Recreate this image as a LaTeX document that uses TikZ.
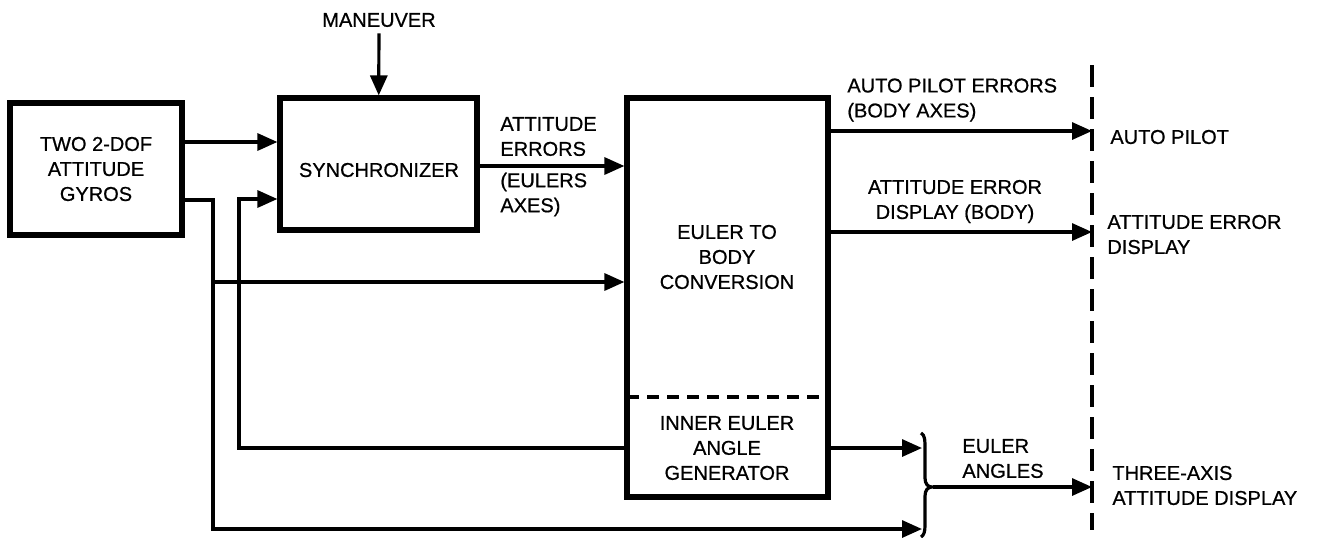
\documentclass[tikz,border=0pt]{standalone}
\usepackage{fontspec}
\setmainfont{Liberation Sans}
\newfontfamily\labfont{Liberation Sans}[FakeBold=0.7]
\usetikzlibrary{arrows.meta,fit}
\begin{document}
\begin{tikzpicture}[x=0.5pt,y=-0.5pt,
  box/.style={draw,line width=2.6pt,inner sep=0pt},
  txt/.style={font=\labfont\fontsize{10pt}{12.5pt}\selectfont,align=center,inner sep=0pt},
  ltxt/.style={txt,align=left,anchor=west},
  conn/.style={line width=1.6pt},
  arr/.style={conn,-{Triangle[length=10pt,width=8.5pt]}},
]
\useasboundingbox (0,0) rectangle (1317,537);

% boxes
\node[box,fit={(10,103)(182,235)}] (gyros) {};
\node[txt] (gyrost) at (gyros.center) {TWO 2-DOF\\ATTITUDE\\GYROS};
\node[box,fit={(280,98)(477,230)}] (sync) {};
\node[txt] (synct) at (379,170) {SYNCHRONIZER};
\node[box,fit={(627,98)(828,497)}] (euler) {};
\coordinate (dl) at (627,397);
\coordinate (dr) at (828,397);
\draw[conn,dash pattern=on 6pt off 4pt] (dl) -- (dr);
\node[txt] (eulert) at (727,257) {EULER TO\\BODY\\CONVERSION};
\node[txt] (innert) at (727,448) {INNER EULER\\ANGLE\\GENERATOR};

% maneuver
\node[txt] (man) at (379,20) {MANEUVER};
\draw[arr,shorten <=3pt] (man) -- (sync);

% coordinates
\coordinate (g1) at (0,142);
\coordinate (j1) at (213,200);
\coordinate (j2) at (213,282);
\coordinate (j3) at (213,529);
\coordinate (bt) at (922,529);
\coordinate (f1) at (239,448);
\coordinate (f2) at (239,199);
\coordinate (ae1) at (0,166);
\coordinate (ie) at (922,448);
\coordinate (dtop) at (1092,65);
\coordinate (dbot) at (1092,530);
\coordinate (apT) at (1092,131);
\coordinate (aeT) at (1092,232);
\coordinate (eaS) at (933,487);
\coordinate (eaT) at (1092,487);

% connectors
\draw[arr] (gyros.east|-g1) -- (sync.west|-g1);
\draw[arr] (gyros.east|-j1) -- (j1) -- (j3) -- (bt);
\draw[arr] (j2) -- (euler.west|-j2);
\draw[arr] (euler.west|-f1) -- (f1) -- (f2) -- (sync.west|-f2);
\draw[arr] (sync.east|-ae1) -- (euler.west|-ae1);
\draw[arr] (euler.east|-apT) -- (apT);
\draw[arr] (euler.east|-aeT) -- (aeT);
\draw[arr] (euler.east|-ie) -- (ie);
\draw[arr] (eaS) -- (eaT);

% brace
\draw[conn] (921,433) .. controls (925,435) and (925,440) .. (925,450) -- (925,478)
  .. controls (925,484) and (928,487) .. (932,487)
  .. controls (928,487) and (925,490) .. (925,496) -- (925,525)
  .. controls (925,532) and (924,535) .. (921,537);

% dashed boundary
\draw[conn,dash pattern=on 11pt off 5pt] (dtop) -- (dbot);

% labels
\node[ltxt] (ae) at (500,136.5) {ATTITUDE\\ERRORS};
\node[ltxt] (ea) at (500,194.5) {(EULERS\\AXES)};
\node[ltxt] (ape) at (847,100) {AUTO PILOT ERRORS\\(BODY AXES)};
\node[txt] (aed) at (955,201.5) {ATTITUDE ERROR\\DISPLAY (BODY)};
\node[ltxt] (ap) at (1110,137) {AUTO PILOT};
\node[ltxt] (aedr) at (1107,234.5) {ATTITUDE ERROR\\DISPLAY};
\node[ltxt] (eang) at (962,458.5) {EULER\\ANGLES};
\node[ltxt] (tad) at (1112,485.5) {THREE-AXIS\\ATTITUDE DISPLAY};
\end{tikzpicture}
\end{document}
